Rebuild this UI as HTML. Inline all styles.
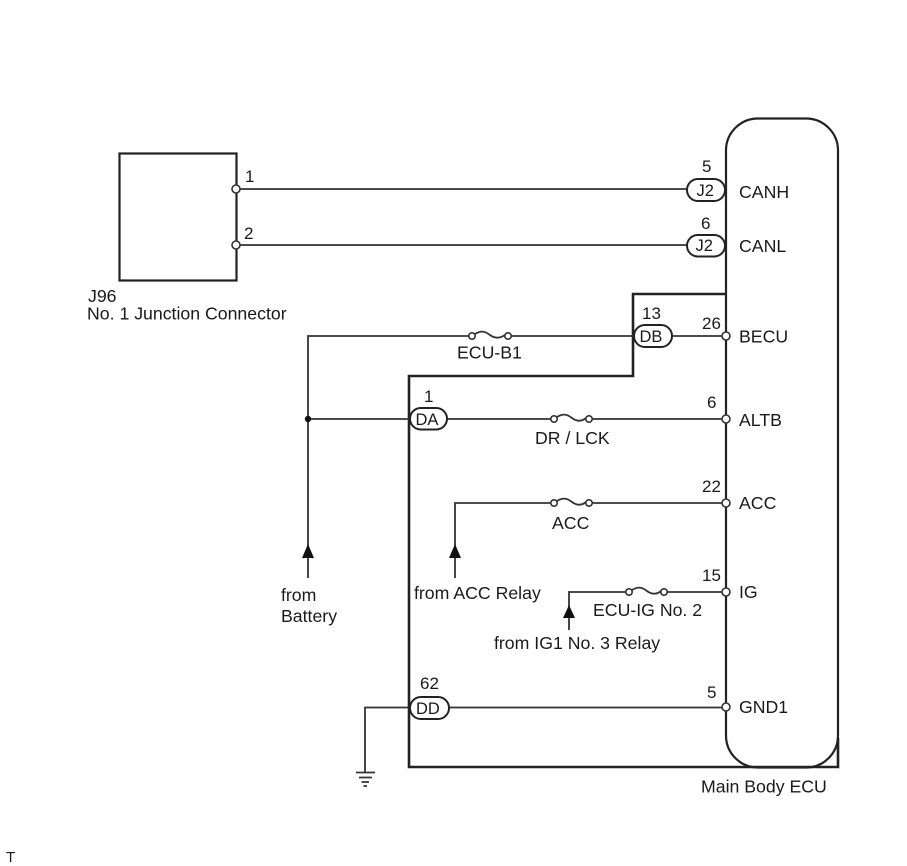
<!DOCTYPE html>
<html><head><meta charset="utf-8"><style>
html,body{margin:0;padding:0;background:#fff}
svg{display:block;filter:blur(0.35px)}
text{font-family:"Liberation Sans",sans-serif;font-size:17.7px;fill:#1a1a1a}
.n{font-size:17px}
.k{font-size:16.500px}
.w{fill:none;stroke:#333;stroke-width:1.8}
.b{fill:none;stroke:#222;stroke-width:2.2}
.c{fill:#fff;stroke:#333;stroke-width:1.6}
.p{fill:#fff;stroke:#222;stroke-width:2}
.a{fill:#111;stroke:none}
</style></head><body>
<svg width="907" height="866" viewBox="0 0 907 866" xmlns="http://www.w3.org/2000/svg">
<rect width="907" height="866" fill="#fff"/>
<!-- shield -->
<path class="b" d="M726 294H633V376H409V767H838V738" style="stroke-width:2.6"/>
<!-- ECU -->
<rect class="b" x="726" y="118.500" width="112" height="649" rx="32" ry="32" fill="none"/>
<!-- J96 -->
<rect class="b" x="119.500" y="153.500" width="117" height="127"/>
<!-- wires -->
<path class="w" d="M236 189H688"/>
<path class="w" d="M236 245H688"/>
<path class="w" d="M308 578V336H472"/>
<path class="w" d="M508 336H634"/>
<path class="w" d="M672 336H726"/>
<path class="w" d="M308 419H410"/>
<path class="w" d="M447 419H554"/>
<path class="w" d="M589 419H726"/>
<path class="w" d="M455 578V503H554"/>
<path class="w" d="M589 503H726"/>
<path class="w" d="M569 630V592H629"/>
<path class="w" d="M664 592H726"/>
<path class="w" d="M365 772V707.500H410"/>
<path class="w" d="M449 707.500H726"/>
<!-- fuses -->
<path class="w" d="M475 334C483 329 487 333 490 335C494 338 499 339 505 335"/>
<path class="w" d="M557 417C565 412 569 416 572 418C576 421 581 422 586 418"/>
<path class="w" d="M557 501C565 496 569 500 572 502C576 505 581 506 586 502"/>
<path class="w" d="M632 590C640 585 644 589 647 591C651 594 656 595 661 591"/>
<g class="c" style="fill:#fff">
<circle cx="472" cy="336" r="3.200"/><circle cx="508" cy="336" r="3.200"/>
<circle cx="554" cy="419" r="3.200"/><circle cx="589" cy="419" r="3.200"/>
<circle cx="554" cy="503" r="3.200"/><circle cx="589" cy="503" r="3.200"/>
<circle cx="629" cy="592" r="3.200"/><circle cx="664" cy="592" r="3.200"/>
<circle cx="236" cy="189" r="4"/><circle cx="236" cy="245" r="4"/>
<circle cx="726" cy="336" r="4"/><circle cx="726" cy="419" r="4"/>
<circle cx="726" cy="503" r="4"/><circle cx="726" cy="592" r="4"/>
<circle cx="726" cy="707" r="4"/>
</g>
<circle cx="308" cy="419" r="3.200" fill="#111"/>
<!-- connector pills -->
<rect class="p" x="687" y="179" width="38" height="22" rx="11"/>
<rect class="p" x="687" y="235" width="38" height="21.500" rx="10.750"/>
<rect class="p" x="634" y="325" width="38" height="22" rx="11"/>
<rect class="p" x="410" y="408" width="37" height="21.500" rx="10.750"/>
<rect class="p" x="410" y="697" width="39" height="22" rx="11"/>
<!-- arrows -->
<polygon class="a" points="308,544 302,558 314,558"/>
<polygon class="a" points="455,544 449,558 461,558"/>
<polygon class="a" points="569,605 563,618 575,618"/>
<!-- ground -->
<path class="w" d="M356 772.500H375M359 777.500H372M361.500 782H369M363.500 786H367"/>
<!-- labels -->
<text class="n" x="245" y="182">1</text>
<text class="n" x="244" y="239">2</text>
<text x="88" y="302">J96</text>
<text x="87" y="319.500">No. 1 Junction Connector</text>
<text class="n" x="702" y="172">5</text>
<text class="n" x="701" y="229">6</text>
<text class="k" x="696.500" y="196">J2</text>
<text class="k" x="695.500" y="251">J2</text>
<text class="n" x="642" y="319">13</text>
<text class="n" x="702" y="329">26</text>
<text class="k" x="639.500" y="342">DB</text>
<text class="n" x="424" y="402">1</text>
<text class="k" x="415.500" y="425">DA</text>
<text class="n" x="707" y="408">6</text>
<text class="n" x="420" y="689">62</text>
<text class="k" x="416" y="714">DD</text>
<text class="n" x="707" y="698">5</text>
<text class="n" x="702" y="492">22</text>
<text class="n" x="702" y="581">15</text>
<text x="739" y="198">CANH</text>
<text x="739" y="252">CANL</text>
<text x="739" y="342.500">BECU</text>
<text x="739" y="426">ALTB</text>
<text x="739" y="509">ACC</text>
<text x="739" y="598">IG</text>
<text x="739" y="713">GND1</text>
<text x="457" y="358.500">ECU-B1</text>
<text x="535" y="444">DR / LCK</text>
<text x="552" y="529">ACC</text>
<text x="593" y="616">ECU-IG No. 2</text>
<text x="494" y="649">from IG1 No. 3 Relay</text>
<text x="414" y="599">from ACC Relay</text>
<text x="281" y="601">from</text>
<text x="281" y="622">Battery</text>
<text x="701" y="792.500">Main Body ECU</text>
<text x="6" y="862" style="font-size:15px">T</text>
</svg>
</body></html>
